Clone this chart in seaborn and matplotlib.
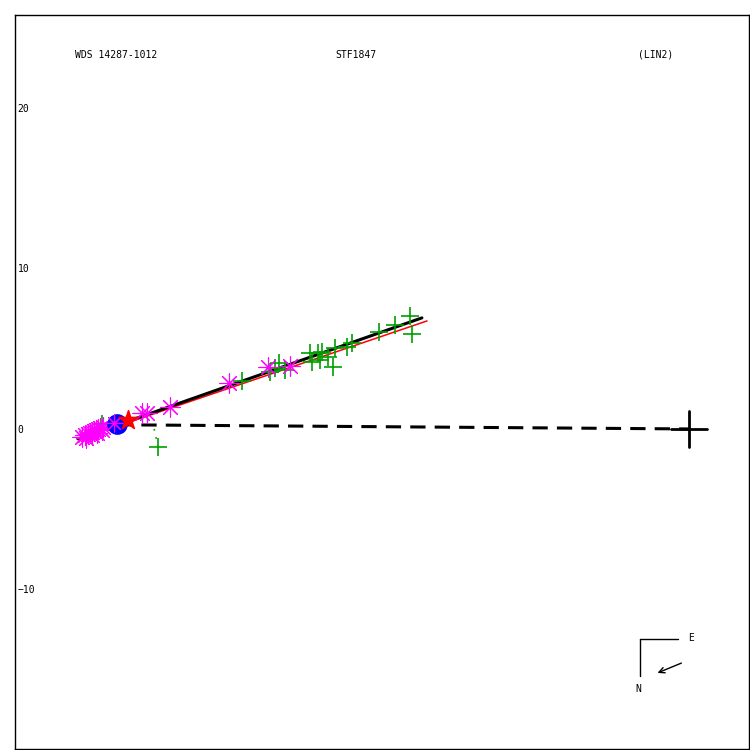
import numpy as np
import pandas as pd
import matplotlib
matplotlib.use('Agg')
import matplotlib.pyplot as plt
import seaborn as sns

sns.set_style('white')
plt.rcParams['font.family'] = ['DejaVu Sans Mono']
plt.rcParams['text.color'] = 'black'
plt.rcParams['ytick.color'] = 'black'

# measurements (x = east offset, y = north offset, arcsec)
magenta_x = [37.82, 37.63, 37.45, 37.32, 37.20, 37.07, 36.95, 36.82, 36.70, 36.51,
             37.57, 37.20, 36.89, 36.57, 34.08, 33.77, 32.34, 28.66, 26.23, 24.86]
magenta_y = [-0.50, -0.37, -0.31, -0.25, -0.19, -0.12, -0.06, 0.00, 0.06, 0.12,
             -0.56, -0.37, -0.25, -0.06, 1.00, 1.00, 1.37, 2.87, 3.86, 3.93]
green_x = [36.57, 33.08, 27.85, 26.11, 25.79, 25.55, 25.17, 23.61, 23.49, 23.12, 22.87,
           22.99, 22.49, 22.18, 22.06, 21.31, 21.00, 19.31, 18.32, 17.38, 17.26]
green_y = [0.31, -1.12, 2.99, 3.55, 3.80, 4.11, 3.68, 4.74, 4.17, 4.74, 4.80,
           4.30, 4.49, 3.86, 5.05, 5.11, 5.36, 6.04, 6.48, 7.04, 5.92]
first_x, first_y = [35.64], [0.31]
star_x, star_y = [34.95], [0.56]
over_x, over_y = [35.83], [0.37]
resid_x, resid_y = [33.08, 33.40], [-1.12, 0.37]
fit_x, fit_y = [38.07, 16.64], [-0.62, 6.92]
old_x, old_y = [37.94, 16.32], [-0.62, 6.73]
link_x, link_y = [35.64, 0.0], [0.26, 0.0]

fig = plt.figure(figsize=(7.5, 7.5), dpi=100)
ax = fig.add_axes([15/750, 1 - 749/750, 734/750, 734/750])

sns.lineplot(x=resid_x, y=resid_y, sort=False, color='#00a000', lw=1.2,
             linestyle=(0, (1, 4)), ax=ax)
sns.lineplot(x=link_x, y=link_y, sort=False, color='black', lw=2.2,
             dashes=False, ax=ax).lines[-1].set_dashes((5, 3))
sns.lineplot(x=old_x, y=old_y, sort=False, color='red', lw=1.1, ax=ax)
sns.lineplot(x=fit_x, y=fit_y, sort=False, color='black', lw=2.2, ax=ax)

sns.scatterplot(x=green_x, y=green_y, marker='+', s=180, color='#00a000',
                linewidth=1.2, ax=ax, zorder=3)
sns.scatterplot(x=magenta_x, y=magenta_y, marker=(8, 2, 0), s=190, color='#ff00ff',
                linewidth=0.8, ax=ax, zorder=4)
sns.scatterplot(x=first_x, y=first_y, marker='o', s=190, color='#0000ff',
                edgecolor='#0000ff', ax=ax, zorder=5)
sns.scatterplot(x=over_x, y=over_y, marker=(8, 2, 0), s=150, color='#ff00ff',
                linewidth=0.8, ax=ax, zorder=6)
sns.scatterplot(x=star_x, y=star_y, marker='*', s=200, color='red',
                edgecolor='red', ax=ax, zorder=6)

# primary
ax.plot([-1.12, 1.12], [0, 0], color='black', lw=2, zorder=7)
ax.plot([0, 0], [-1.12, 1.12], color='black', lw=2, zorder=7)

ax.set_xlim(41.99, -3.74)
ax.set_ylim(-19.94, 25.79)
ax.set_xticks([])
ax.set_yticks([-10, 0, 10, 20])
ax.tick_params(axis='y', length=0, pad=-2, labelsize=7, labelcolor='black')
for tl in ax.get_yticklabels():
    tl.set_ha('left')
for sp in ax.spines.values():
    sp.set_color('black')
    sp.set_linewidth(1)
ax.set_xlabel('')
ax.set_ylabel('')

# compass
ax.plot([0.8515, 0.9033], [0.1499, 0.1499], color='black', lw=1, transform=ax.transAxes)
ax.plot([0.8515, 0.8515], [0.1499, 0.0995], color='black', lw=1, transform=ax.transAxes)
ax.annotate('', xy=(0.8719, 0.1022), xytext=(0.9114, 0.1185), xycoords='axes fraction',
            arrowprops=dict(arrowstyle='->', color='black', lw=1))
ax.text(0.917, 0.151, 'E', fontsize=7, transform=ax.transAxes, va='center')
ax.text(0.845, 0.0817, 'N', fontsize=7, transform=ax.transAxes, va='center')

fig.text(0.1, 0.9267, 'WDS 14287-1012', fontsize=7, va='center')
fig.text(0.4467, 0.9267, 'STF1847', fontsize=7, va='center')
fig.text(0.8507, 0.9267, '(LIN2)', fontsize=7, va='center')

fig.savefig('out.png', dpi=100)
